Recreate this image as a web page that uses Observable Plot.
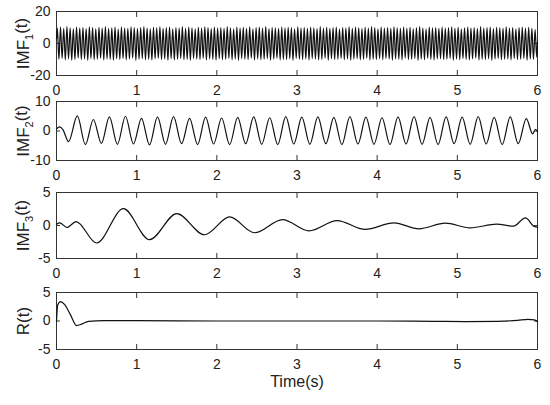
<!DOCTYPE html>
<html>
<head>
<meta charset="utf-8">
<script src="https://cdn.jsdelivr.net/npm/d3@7"></script>
<script src="https://cdn.jsdelivr.net/npm/@observablehq/plot@0.6"></script>
<style>
  html, body { margin: 0; padding: 0; background: #fff; }
  #chart { position: relative; width: 550px; height: 405px; }
  #chart svg { position: absolute; left: 0; top: 0; }
</style>
</head>
<body>
<div id="chart"></div>
<script>
// ---- tick values ----
const xTicks = [0, 1, 2, 3, 4, 5, 6];
const imf1Ticks = [-20, 0, 20];
const imf2Ticks = [-10, 0, 10];
const imf3Ticks = [-5, 0, 5];
const rTicks = [-5, 0, 5];

// ---- IMF1: ~25 Hz, extrema (peak / trough per cycle) ----
const imf1Freq = 25;
const imf1Start = 3.0;
const imf1End = 1.0;
const imf1Peaks = [
  9.6,10.2,9.4,10.5,9.8,9.1,10.3,9.7,10.0,9.3,
  10.4,9.9,9.2,10.1,9.6,10.5,9.4,9.8,10.2,9.0,
  10.3,9.7,9.5,10.4,9.9,9.3,10.0,10.5,9.6,9.2,
  10.1,9.8,10.4,9.4,9.9,10.2,9.1,10.0,9.7,10.5,
  9.5,10.3,9.8,9.2,10.1,9.6,10.4,9.9,9.3,10.2,
  9.7,10.0,9.4,10.5,9.8,9.1,10.3,9.6,10.1,9.5,
  10.4,9.2,9.9,10.2,9.7,10.5,9.3,10.0,9.8,9.4,
  10.3,9.6,10.1,9.9,9.2,10.4,9.7,10.0,9.5,10.2,
  9.8,9.3,10.5,9.6,10.1,9.4,9.9,10.3,9.1,10.0,
  9.7,10.4,9.5,10.2,9.8,9.3,10.1,9.6,10.5,9.9,
  9.2,10.3,9.7,10.0,9.4,10.4,9.8,9.5,10.2,9.6,
  10.1,9.3,9.9,10.5,9.7,9.1,10.3,9.8,10.0,9.4,
  10.2,9.6,9.9,10.4,9.5,10.1,9.2,9.8,10.3,9.7,
  10.0,9.4,10.5,9.6,9.9,10.2,9.3,10.1,9.8,9.5,
  10.4,9.7,10.0,9.2,9.9,10.3,9.6,10.1,9.4,8.8
];
const imf1Troughs = [
  -9.8,-9.3,-10.2,-9.6,-10.4,-9.9,-9.1,-10.0,-9.7,-10.5,
  -9.4,-10.1,-9.8,-9.2,-10.3,-9.6,-9.9,-10.4,-9.5,-10.0,
  -9.3,-10.2,-9.7,-9.1,-10.5,-9.8,-9.4,-10.1,-9.9,-10.3,
  -9.6,-9.2,-10.0,-9.7,-10.4,-9.5,-10.2,-9.8,-9.3,-10.1,
  -9.9,-10.5,-9.4,-9.7,-10.0,-9.2,-10.3,-9.6,-9.9,-10.4,
  -9.5,-10.1,-9.8,-9.3,-10.2,-9.7,-10.5,-9.4,-9.9,-10.0,
  -9.1,-10.3,-9.6,-10.1,-9.8,-9.4,-10.4,-9.7,-9.2,-10.2,
  -9.9,-10.0,-9.5,-10.5,-9.3,-9.8,-10.1,-9.6,-10.3,-9.4,
  -9.7,-10.2,-9.9,-9.1,-10.4,-9.5,-10.0,-9.8,-9.3,-10.1,
  -9.6,-10.5,-9.7,-9.4,-10.2,-9.9,-9.2,-10.3,-9.8,-10.0,
  -9.5,-10.1,-9.3,-9.7,-10.4,-9.6,-9.9,-10.2,-9.1,-10.0,
  -9.8,-9.4,-10.5,-9.7,-10.1,-9.2,-9.9,-10.3,-9.6,-9.5,
  -10.0,-9.8,-9.3,-10.4,-9.7,-10.1,-9.4,-9.9,-10.2,-9.6,
  -9.1,-10.3,-9.8,-10.0,-9.5,-10.5,-9.7,-9.3,-10.1,-9.9,
  -9.6,-10.2,-9.4,-10.0,-9.8,-9.3,-10.4,-9.7,-9.9,-8.5
];

// ---- IMF2: ~5 Hz, extrema (time, value) ----
const imf2Time = [0, 0.04, 0.08, 0.15,
  0.26,0.36,0.46,0.56,0.66,0.76,0.86,0.96,1.06,1.16,1.26,1.36,1.46,1.56,1.66,1.76,1.86,1.96,
  2.06,2.16,2.26,2.36,2.46,2.56,2.66,2.76,2.86,2.96,3.06,3.16,3.26,3.36,3.46,3.56,3.66,3.76,
  3.86,3.96,4.06,4.16,4.26,4.36,4.46,4.56,4.66,4.76,4.86,4.96,5.06,5.16,5.26,5.36,5.46,5.56,
  5.66,5.76,5.86, 5.94, 5.975, 6.0];
const imf2Value = [0.7, 1.4, 0.5, -3.6,
  5.1,-4.6,3.9,-4.2,4.8,-4.5,5.0,-4.4,4.3,-4.7,4.8,-4.5,4.9,-4.3,4.3,-4.6,4.7,-4.4,
  4.4,-4.6,4.6,-4.3,4.8,-4.5,4.5,-4.6,4.9,-4.4,4.7,-4.5,4.8,-4.3,4.6,-4.6,4.9,-4.4,
  4.7,-4.5,4.5,-4.6,4.8,-4.4,4.9,-4.5,4.6,-4.6,4.8,-4.3,4.7,-4.5,4.9,-4.4,4.6,-4.6,
  4.8,-4.3,4.2, -1.0, 0.6, -0.2];

// ---- IMF3: slow decaying oscillation ----
const imf3Time = [0, 0.04, 0.13, 0.245, 0.5, 0.835, 1.16, 1.5, 1.845, 2.16, 2.47, 2.82,
  3.15, 3.5, 3.85, 4.21, 4.52, 4.85, 5.16, 5.49, 5.70, 5.85, 5.96, 6.0];
const imf3Value = [0.2, 0.4, -0.3, 0.6, -2.65, 2.55, -2.15, 1.8, -1.4, 1.3, -1.1, 0.9,
  -0.8, 0.75, -0.6, 0.4, -0.5, 0.35, -0.35, 0.2, -0.1, 1.15, -0.15, -0.25];

// ---- R: residual ----
const rTime = [0, 0.015, 0.05, 0.1, 0.17, 0.25, 0.32, 0.4, 0.6, 1.0, 2.0, 3.0, 4.0, 4.7, 5.1, 5.5, 5.75, 5.88, 5.96, 6.0];
const rValue = [0.0, 2.8, 3.4, 2.9, 1.2, -0.8, -0.5, -0.05, 0.05, 0.05, 0.0, 0.0, 0.0, -0.05, -0.1, -0.05, 0.1, 0.3, 0.2, -0.1];

// ---- build tables ----
const imf1Data = [{t: 0, v: imf1Start}];
imf1Peaks.forEach((p, k) => {
  imf1Data.push({t: (k + 0.25) / imf1Freq, v: p});
  imf1Data.push({t: (k + 0.75) / imf1Freq, v: imf1Troughs[k]});
});
imf1Data.push({t: 6, v: imf1End});
const zip = (ts, vs) => ts.map((t, i) => ({t, v: vs[i]}));

const panels = [
  {data: imf1Data, domain: [-20, 20], ticks: imf1Ticks, top: 11, bottom: 75, label: "IMF1(t)"},
  {data: zip(imf2Time, imf2Value), domain: [-10, 10], ticks: imf2Ticks, top: 101, bottom: 160, label: "IMF2(t)"},
  {data: zip(imf3Time, imf3Value), domain: [-5, 5], ticks: imf3Ticks, top: 192, bottom: 258, label: "IMF3(t)"},
  {data: zip(rTime, rValue), domain: [-5, 5], ticks: rTicks, top: 292, bottom: 349, label: "R(t)", xLabel: "Time(s)"}
];

const W = 550, H = 405, L = 56, R = 537;
const font = "'Liberation Sans', Arial, Helvetica, sans-serif";
const chart = document.getElementById("chart");
const fmt = d => String(d);

for (const p of panels) {
  const marks = [
    Plot.frame({stroke: "#333", strokeWidth: 1}),
    Plot.axisX({anchor: "bottom", ticks: xTicks, tickFormat: fmt, tickSize: -5, tickPadding: 15, label: null, stroke: "#333", fill: "#222", fontSize: 14}),
    Plot.axisX({anchor: "top", ticks: xTicks, tickSize: -5, tickFormat: () => "", label: null, stroke: "#333"}),
    Plot.axisY({anchor: "left", ticks: p.ticks, tickFormat: fmt, tickSize: -4, tickPadding: 10, label: null, stroke: "#333", fill: "#222", fontSize: 14}),
    Plot.axisY({anchor: "right", ticks: p.ticks, tickSize: -4, tickFormat: () => "", label: null, stroke: "#333"}),
    Plot.line(p.data, {x: "t", y: "v", curve: "monotone-x", stroke: "#111", strokeWidth: 1.2}),
    Plot.text([p.label], {frameAnchor: "left", rotate: -90, dx: -33, textAnchor: "middle", lineAnchor: "middle", fontSize: 17, fill: "#222", text: d => d})
  ];
  if (p.xLabel) {
    marks.push(Plot.text([p.xLabel], {frameAnchor: "bottom", dy: 32, textAnchor: "middle", lineAnchor: "middle", fontSize: 16, fill: "#222", text: d => d}));
  }
  const svg = Plot.plot({
    width: W, height: H,
    marginLeft: L, marginRight: W - R, marginTop: p.top, marginBottom: H - p.bottom,
    x: {domain: [0, 6]},
    y: {domain: p.domain},
    style: {background: "transparent", fontFamily: font, fontSize: "14px", color: "#222", overflow: "visible"},
    marks
  });
  // subscripts in IMF labels
  d3.select(svg).selectAll("text").each(function () {
    const m = this.textContent.match(/^IMF(\d)\(t\)$/);
    if (m) {
      const t = d3.select(this);
      t.text(null);
      t.append("tspan").text("IMF");
      t.append("tspan").attr("dy", "0.35em").attr("font-size", "11px").text(m[1]);
      t.append("tspan").attr("dy", "-0.35em").text("(t)");
    }
  });
  chart.appendChild(svg);
}
</script>
</body>
</html>
